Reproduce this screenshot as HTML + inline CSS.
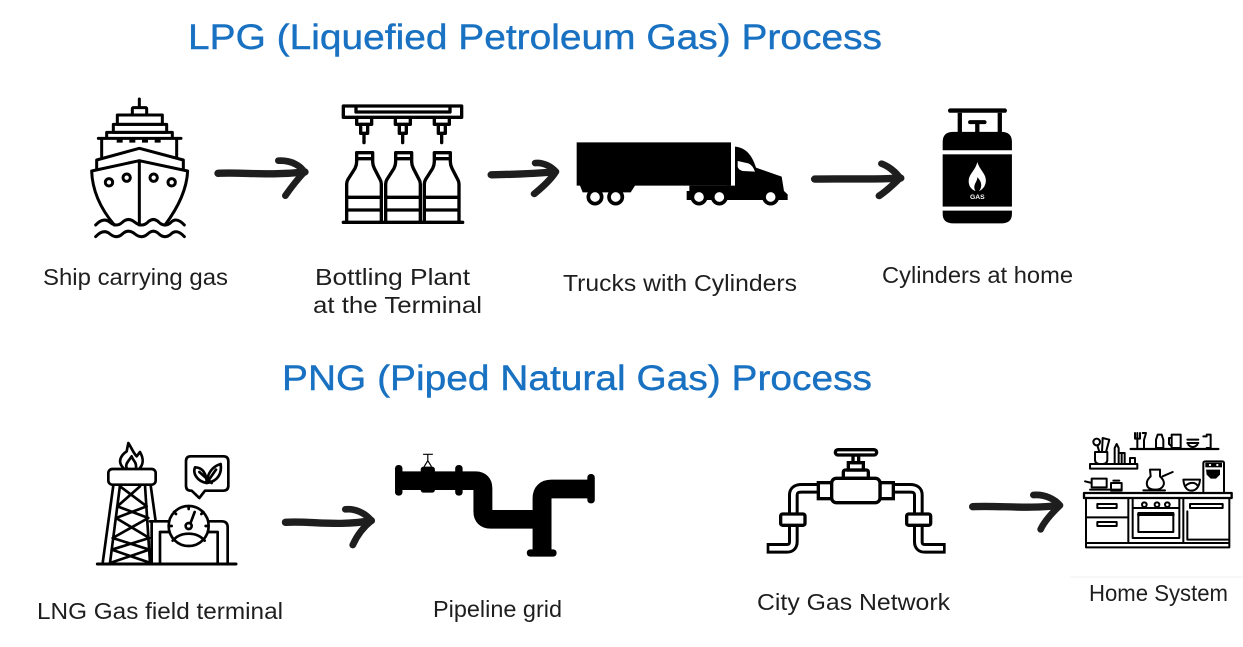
<!DOCTYPE html>
<html><head><meta charset="utf-8"><style>
html,body{margin:0;padding:0;background:#fff;width:1243px;height:647px;overflow:hidden}
svg{display:block}
text{font-family:"Liberation Sans",sans-serif}
.t{font-size:35px;fill:#1971c2;stroke:#1971c2;stroke-width:.4}
.l{font-size:23px;fill:#1e1e1e}
.o{fill:none;stroke:#000;stroke-linecap:round;stroke-linejoin:round}
.a{fill:none;stroke:#1e1e1e;stroke-linecap:round;stroke-linejoin:round}
</style></head><body>
<svg width="1243" height="647" viewBox="0 0 1243 647" xmlns="http://www.w3.org/2000/svg">
<rect width="1243" height="647" fill="#fff"/>
<text class="t" x="188" y="49" textLength="694" lengthAdjust="spacingAndGlyphs">LPG (Liquefied Petroleum Gas) Process</text>
<text class="t" x="282" y="390" textLength="590" lengthAdjust="spacingAndGlyphs">PNG (Piped Natural Gas) Process</text>
<text class="l" x="43" y="285" textLength="185" lengthAdjust="spacingAndGlyphs">Ship carrying gas</text>
<text class="l" x="315" y="285" textLength="155" lengthAdjust="spacingAndGlyphs">Bottling Plant</text>
<text class="l" x="313" y="313" textLength="169" lengthAdjust="spacingAndGlyphs">at the Terminal</text>
<text class="l" x="563" y="291" textLength="234" lengthAdjust="spacingAndGlyphs">Trucks with Cylinders</text>
<text class="l" x="882" y="283" textLength="191" lengthAdjust="spacingAndGlyphs">Cylinders at home</text>
<text class="l" x="37" y="619" textLength="246" lengthAdjust="spacingAndGlyphs">LNG Gas field terminal</text>
<text class="l" x="433" y="617" textLength="129" lengthAdjust="spacingAndGlyphs">Pipeline grid</text>
<text class="l" x="757" y="610" textLength="193" lengthAdjust="spacingAndGlyphs">City Gas Network</text>
<text class="l" x="1089" y="601" textLength="139" lengthAdjust="spacingAndGlyphs">Home System</text>
<line x1="1070" y1="577" x2="1243" y2="577" stroke="#f1f1f1" stroke-width="1"/>

<!-- ship -->
<g transform="translate(85,95) scale(.33333)">
<g class="o" stroke-width="9">
<path d="M163,12V38"/><rect x="142" y="38" width="43" height="22" rx="3"/>
<rect x="97" y="60" width="135" height="28"/><rect x="85" y="88" width="160" height="24"/>
<path d="M65,128V112H262V128M40,130H288M50,130V185M275,130V185"/>
<path d="M95,138H235" stroke-dasharray="18 20" stroke-linecap="butt" stroke-width="10"/>
<path d="M35,220V195L163,160L295,195V220"/>
<path d="M20,228L163,197L308,228C305,290 270,350 240,390M20,228C22,290 50,345 88,390M163,197V390"/>
<circle cx="72" cy="262" r="11"/><circle cx="125" cy="248" r="11"/><circle cx="206" cy="248" r="11"/><circle cx="260" cy="262" r="11"/>
<path d="M32,390Q55,365 75,382Q95,398 112,382Q130,365 150,382Q170,398 188,382Q205,365 222,382Q240,398 258,382Q275,365 298,390"/>
<path d="M32,425Q55,400 75,417Q95,433 112,417Q130,400 150,417Q170,433 188,417Q205,400 222,417Q240,433 258,417Q275,400 298,425"/>
</g>
</g>

<!-- arrow, bottling -->
<g transform="translate(60,90) scale(.33333)">
<path class="a" d="M474,250C550,246 620,258 735,246" stroke-width="22"/>
<path class="a" d="M655,212C695,210 722,228 733,246C715,265 695,290 676,317" stroke-width="20"/>
<g class="o" stroke-width="10">
<rect x="850" y="48" width="355" height="34"/><path d="M888,54V66H1170V54"/>
<path d="M850,397H1208"/>
<g id="nz"><path d="M890,85V103H935V85M902,103V130H923V103M912,130V158"/></g>
<use href="#nz" x="116"/><use href="#nz" x="233"/>
<g id="bt"><path d="M860,395V282Q860,275 864,268L885,235Q890,225 890,215V188H938V215Q938,225 943,235L960,268Q964,275 964,282V395M890,206H938M860,322H964M860,360H964"/></g>
<use href="#bt" x="117"/><use href="#bt" x="233"/>
</g>
</g>

<!-- truck -->
<g transform="translate(570,135) scale(.33333)">
<g fill="#000">
<path d="M20,22H483V152H195L182,172H38L30,152H20Z"/>
<path d="M358,152H478V195H350V168H358Z"/>
<path d="M495,35C530,38 548,65 558,98L635,125L642,168L653,178V195H470V152H495Z"/>
</g>
<path d="M503,78L535,85Q548,90 555,110L518,108Q505,105 503,95Z" fill="#fff"/>
<g fill="#fff" stroke="#000" stroke-width="11">
<circle cx="75" cy="186" r="20"/><circle cx="137" cy="186" r="20"/><circle cx="387" cy="186" r="20"/><circle cx="448" cy="186" r="20"/><circle cx="602" cy="186" r="20"/>
</g>
</g>

<!-- arrows + cylinder -->
<g transform="translate(480,90) scale(.357,.335)">
<path class="a" d="M32,253C90,252 150,250 210,244" stroke-width="22"/>
<path class="a" d="M155,218C180,216 200,230 212,244C200,265 175,290 152,310" stroke-width="20"/>
<path class="a" d="M938,266C1010,264 1090,268 1178,263" stroke-width="22"/>
<path class="a" d="M1125,220C1145,228 1165,245 1176,263C1160,280 1140,300 1118,316" stroke-width="20"/>
<g fill="#000">
<rect x="1311" y="55" width="165" height="13" rx="6"/>
<rect x="1338" y="68" width="12" height="60"/><rect x="1450" y="68" width="12" height="60"/>
<rect x="1367" y="90" width="52" height="12" rx="6"/><rect x="1387" y="100" width="12" height="28"/>
<path d="M1296,180V155Q1296,125 1326,125H1460Q1490,125 1490,155V180Z"/>
<rect x="1296" y="192" width="194" height="156"/>
<path d="M1296,360H1490V370Q1490,398 1460,398H1326Q1296,398 1296,370Z"/>
</g>
<path d="M1393,215C1400,240 1418,250 1417,272C1416,290 1405,298 1398,302C1408,288 1405,272 1393,260C1394,275 1378,282 1388,302C1375,296 1368,285 1369,270C1370,250 1388,240 1393,215Z" fill="#fff"/>
<text x="1393" y="326" fill="#fff" text-anchor="middle" font-weight="bold" style="font-size:19px">GAS</text>
</g>

<!-- rig -->
<g transform="translate(90,438) scale(.33333)">
<g class="o" stroke-width="8">
<path d="M22,378H438" stroke-width="9"/>
<rect x="55" y="93" width="142" height="47" rx="12"/>
<path d="M100,90C80,70 95,50 110,40L115,15C125,30 130,45 140,55L150,42C160,60 162,75 150,90M110,90C105,78 115,70 125,55C128,68 140,70 138,90"/>
<path d="M70,142L38,375M90,142L60,375M165,142L180,375M182,142L197,250"/>
<path d="M90,145L170,205L78,240L178,300L65,335L182,375M150,145L82,205L175,240L68,300L178,335L60,375"/>
<path d="M302,55H400Q415,55 415,70V143Q415,158 400,158H345L328,180L305,158H302Q288,158 288,143V70Q288,55 302,55Z"/>
<path d="M350,135C320,130 308,105 315,88C338,88 350,108 350,135C352,105 368,85 392,78C396,105 385,130 350,135M328,102L365,135M378,95L350,135"/>
<path d="M180,250H235M358,250H395Q413,250 413,268V375M185,250V375M210,375V282H235M383,375V282H355"/>
<circle cx="296" cy="264" r="60" fill="#fff"/>
<path d="M248,308C272,280 320,280 344,308"/>
<circle cx="296" cy="264" r="9"/><path d="M302,254L314,222"/>
<path d="M296,205V213M252,222L258,228M340,222L334,228M238,264H245M347,264H354"/>
</g>
</g>

<!-- arrow + pipe -->
<g transform="translate(80,430) scale(.338,.3333)">
<path class="a" d="M608,277C680,272 760,290 862,272" stroke-width="22"/>
<path class="a" d="M785,238C815,235 845,250 862,272C840,290 820,315 807,345" stroke-width="20"/>
<g fill="none" stroke="#000" stroke-width="56">
<path d="M940,152H1170Q1192,152 1192,175V245Q1192,268 1215,268H1367"/>
<path d="M1367,375V205Q1367,177 1395,177H1510"/>
</g>
<g fill="#000">
<rect x="932" y="105" width="22" height="92" rx="10"/><rect x="1110" y="105" width="22" height="92" rx="10"/>
<rect x="1008" y="110" width="42" height="78" rx="8"/>
<rect x="1501" y="132" width="22" height="88" rx="10"/><rect x="1322" y="358" width="88" height="22" rx="10"/>
</g>
<path d="M1015,73H1044M1029,73V92M1018,110L1029,92L1040,110" fill="none" stroke="#000" stroke-width="3.5"/>
</g>

<!-- city gas, arrow -->
<g transform="translate(740,420) scale(.33333)">
<g fill="none" stroke="#000" stroke-width="32" stroke-linejoin="round">
<path d="M80,385H140Q160,385 160,365V225Q160,205 185,205H240"/>
<path d="M617,385H555Q535,385 535,365V225Q535,205 510,205H455"/>
</g>
<g fill="none" stroke="#fff" stroke-width="14">
<path d="M88,385H140Q160,385 160,365V225Q160,205 185,205H240"/>
<path d="M609,385H555Q535,385 535,365V225Q535,205 510,205H455"/>
</g>
<g fill="#fff" stroke="#000" stroke-width="10">
<rect x="235" y="188" width="40" height="48"/><rect x="420" y="188" width="40" height="48"/>
<rect x="310" y="150" width="75" height="25" rx="6"/><rect x="325" y="128" width="45" height="22"/>
<rect x="339" y="105" width="17" height="23"/>
<rect x="286" y="89" width="124" height="16" rx="8"/>
<rect x="275" y="175" width="145" height="73" rx="14"/>
<rect x="122" y="282" width="73" height="34" rx="6"/><rect x="500" y="282" width="72" height="34" rx="6"/>
</g>
<path class="a" d="M698,260C780,256 860,268 958,256" stroke-width="22"/>
<path class="a" d="M880,225C915,222 945,238 960,256C940,275 915,300 902,328" stroke-width="20"/>
</g>

<!-- kitchen -->
<g transform="translate(1080,428) scale(.33333)">
<g class="o" stroke-width="6">
<path d="M152,63H415" stroke-width="7"/>
<path d="M172,15L172,60M165,15V32H180V15M188,15H198L192,36V60M228,60V35L233,20H245L250,35V60ZM275,20H302V60H275ZM275,30H267V48L275,55M322,35H355M322,45H355M325,50Q338,64 352,50M380,20H392V60H380M370,25H380"/>
<rect x="30" y="108" width="142" height="14"/>
<path d="M45,72H82V95Q82,108 68,108H60Q45,108 45,95Z"/>
<circle cx="50" cy="42" r="10"/><path d="M52,52L58,72M68,30L88,35L78,72L66,72Z"/>
<path d="M104,108V60L110,48L116,60V108M116,75H134V108M150,108V90H165V108M125,75V108"/>
<path d="M210,125H240V145C262,165 250,185 225,185C195,185 195,160 212,145ZM248,145L278,132M190,187H255"/>
<path d="M35,152H80V178H35ZM15,160L35,165M93,165H125V188H93ZM100,158H118M30,185H125"/>
<path d="M310,155H360C358,180 345,188 335,188C320,188 312,175 310,155M318,172C330,162 345,162 352,172"/>
<path d="M370,190V105Q370,100 378,100H425Q432,100 432,105V190"/>
<rect x="12" y="195" width="443" height="15" stroke-width="7"/>
<path d="M18,210V358H448V210M145,210V345M18,268H145M18,345H448M310,210V345M158,212V330H298V212M158,240H298M322,250V335H445"/>
<rect x="175" y="255" width="105" height="57"/><path d="M175,260H280" stroke-width="8"/>
<rect x="52" y="228" width="58" height="12"/><rect x="52" y="282" width="58" height="12"/><rect x="330" y="228" width="98" height="12"/>
<circle cx="193" cy="230" r="7"/><circle cx="231" cy="230" r="7"/><circle cx="262" cy="230" r="7"/>
</g>
<path d="M378,125H420V140L408,152H392L380,140Z" fill="#000"/>
<rect x="376" y="104" width="50" height="14" fill="#000"/>
<circle cx="390" cy="111" r="3.5" fill="#fff"/><circle cx="412" cy="111" r="3.5" fill="#fff"/>
</g>
</svg>
</body></html>
